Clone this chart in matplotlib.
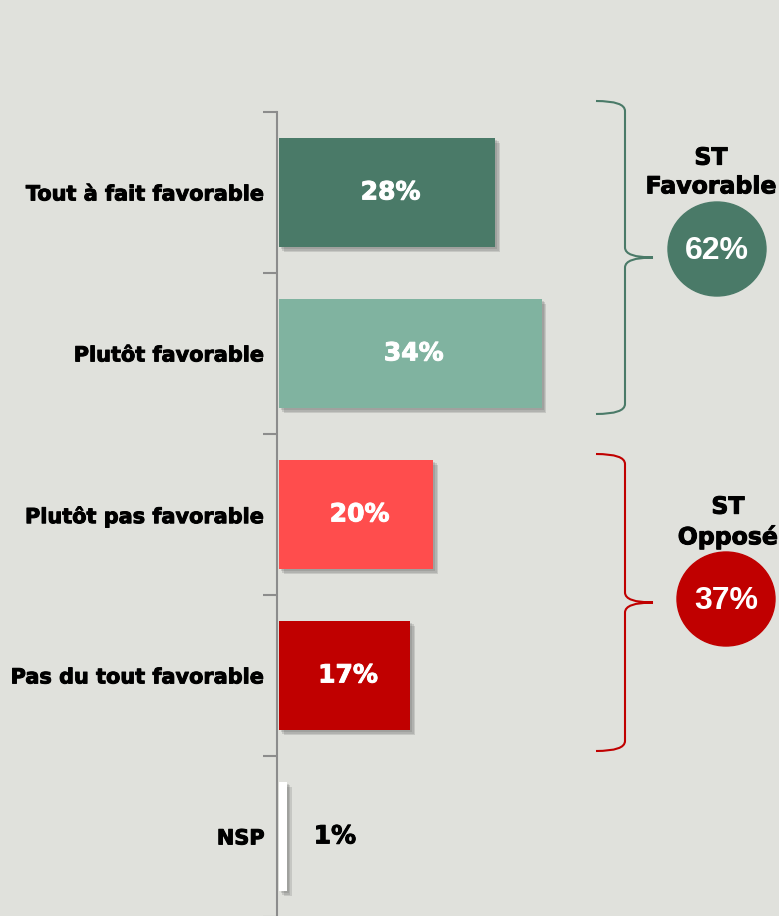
import matplotlib as mpl
mpl.use('agg')
import matplotlib.pyplot as plt
import matplotlib.patheffects as pe
from matplotlib.path import Path
from matplotlib.patches import PathPatch, Ellipse

categories = ["Tout à fait favorable", "Plutôt favorable", "Plutôt pas favorable",
              "Pas du tout favorable", "NSP"]
values = [28, 34, 20, 17, 1]
bar_colors = ["#4a7a68", "#80b3a0", "#ff4d4d", "#c00000", "#ffffff"]
label_colors = ["white", "white", "white", "white", "black"]

groups = ["ST\nFavorable", "ST\nOpposé"]
group_values = [62, 37]
group_colors = ["#4a7a68", "#c00000"]

bg = "#e0e1dc"

fig = plt.figure(figsize=(7.79, 9.16), dpi=100)
fig.patch.set_facecolor(bg)

# main bar chart
ax = fig.add_axes([277 / 779, -0.001, 1 - 277 / 779, 805 / 916])
ax.set_facecolor("none")
ypos = list(range(len(categories)))
bars = ax.barh(ypos, values, left=0.25, height=0.68, color=bar_colors, zorder=3)
shadow = [pe.SimplePatchShadow(offset=(o, -o), shadow_rgbFace="#555555", alpha=0.18)
          for o in (3.5, 2.5, 1.5)]
for b in bars:
    b.set_path_effects(shadow + [pe.Normal()])

ax.set_xlim(0, 65)
ax.set_ylim(4.5, -0.5)
for s in ["top", "right", "bottom"]:
    ax.spines[s].set_visible(False)
ax.spines["left"].set_color("#8c8c8c")
ax.spines["left"].set_linewidth(1.5)
ax.set_xticks([])
ax.set_yticks(ypos)
ax.set_yticklabels(categories, fontsize=15, fontweight="bold")
thick = [pe.withStroke(linewidth=0.7, foreground="black")]
for t in ax.get_yticklabels():
    t.set_path_effects(thick)
ax.tick_params(axis="y", which="major", length=0, pad=9)
ax.set_yticks([i - 0.5 for i in range(len(categories) + 1)], minor=True)
ax.tick_params(axis="y", which="minor", length=10, width=1.5, color="#8c8c8c")

for i, v in enumerate(values):
    x = v / 2 + 0.7 if v > 5 else v + 6.5
    ax.text(x, i, f"{v}%", ha="center", va="center", fontsize=18, fontweight="bold",
            color=label_colors[i], zorder=4,
            path_effects=[pe.withStroke(linewidth=0.7, foreground=label_colors[i])])

# overlay in pixel coordinates for brackets and circles
ov = fig.add_axes([0, 0, 1, 1])
ov.set_xlim(0, 779)
ov.set_ylim(916, 0)
ov.axis("off")
ov.patch.set_alpha(0)


def brace(top, bottom, color):
    mid = (top + bottom) / 2
    x0, x1, x2 = 596, 625, 653
    verts = [(x0, top), (x1, top), (x1, top + 10),
             (x1, mid - 10), (x1, mid), (x2, mid),
             (x1, mid), (x1, mid + 10),
             (x1, bottom - 10), (x1, bottom), (x0, bottom)]
    codes = [Path.MOVETO, Path.CURVE3, Path.CURVE3,
             Path.LINETO, Path.CURVE3, Path.CURVE3,
             Path.CURVE3, Path.CURVE3,
             Path.LINETO, Path.CURVE3, Path.CURVE3]
    ov.add_patch(PathPatch(Path(verts, codes), fill=False, edgecolor=color, lw=1.5))


brace(101, 414, group_colors[0])
brace(454, 751, group_colors[1])

text_pos = [(711, 172), (728, 522)]
circ_pos = [(717, 249), (726, 599)]
for g, v, c, tp, cp in zip(groups, group_values, group_colors, text_pos, circ_pos):
    ov.text(tp[0], tp[1], g, ha="center", va="center", fontsize=17, fontweight="bold",
            linespacing=1.25, path_effects=thick)
    ov.add_patch(Ellipse(cp, 98, 94, color=c))
    ov.text(cp[0], cp[1] + 2, f"{v}%", ha="center", va="center", fontsize=23,
            fontweight="bold", color="white", family="Liberation Sans")

plt.savefig("out.png", facecolor=bg)
